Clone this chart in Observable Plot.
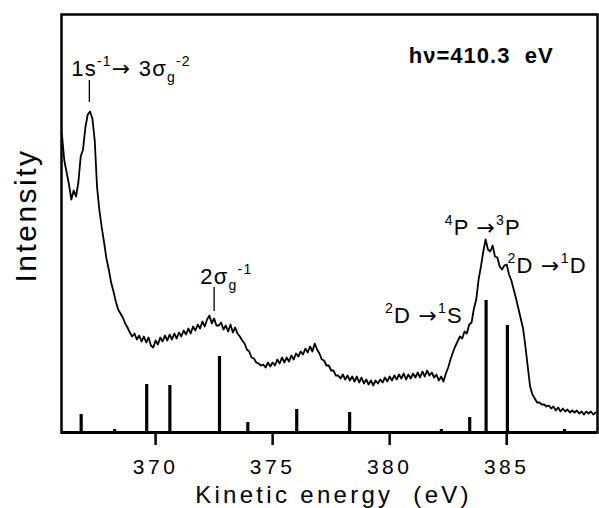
<!DOCTYPE html>
<html><head><meta charset="utf-8">
<script src="https://cdn.jsdelivr.net/npm/d3@7"></script>
<script src="https://cdn.jsdelivr.net/npm/@observablehq/plot@0.6"></script>
<style>body{margin:0;background:#fff} svg{display:block}</style>
</head><body><div id="chart"></div>
<script>
// Spectrum: kinetic energy grid start/step and intensity (arb. units)
const energyStart = 366.0;
const energyStep = 0.1;
const intensity = [
  298,272,260,248,233,242,236,250,276,283,
  305,318,321,314,292,245,222,205,190,174,
  163,150,141,131,123,119,115,109,105,100,
  96,99,93,97,91,96,90,95,87,85,
  92,88,95,91,97,92,98,93,99,94,
  100,96,102,98,104,99,106,102,108,104,
  111,106,113,117,109,114,107,107,110,103,
  107,101,108,100,105,99,96,92,89,83,
  81,75,74,70,69,67,68,65,70,66,
  70,67,73,69,75,70,75,71,77,73,
  79,76,81,78,84,80,86,81,89,83,
  79,73,72,67,67,62,62,57,57,54,
  58,53,57,52,56,51,56,50,55,49,
  53,48,52,47,52,49,53,50,55,51,
  56,52,57,53,58,54,59,53,58,54,
  59,55,60,55,61,56,62,57,60,55,
  58,52,56,51,59,65,73,80,86,91,
  96,94,101,99,108,110,124,133,153,166,
  181,193,183,181,187,176,175,166,163,167,
  168,158,152,143,134,124,114,104,86,66,
  46,38,34,30,30,28,28,26,27,24,
  26,22,25,21,24,21,23,20,22,20,
  22,19,21,18,21,19,21,18,20
];

// Calculated line positions (stick spectrum)
const stickEnergy = [366.82, 368.25, 369.62, 370.61, 372.73, 373.94, 376.03, 378.29, 382.21, 383.42, 384.12, 385.03, 387.47];
const stickHeight = [18, 3, 48, 47, 76, 10, 23, 20, 3, 15, 132, 107, 3];

const xTicks = [370, 375, 380, 385];

// Peak assignment labels
const labelText = ["1s-1→ 3σg-2", "2σg-1", "4P →3P", "2D →1D", "2D →1S"];
const labelEnergy = [366.40, 371.91, 382.35, 385.04, 379.80];
const labelIntensity = [357, 149, 198, 160, 110];
const labelParts = [
  [["1s",0],["-1",1],["→",2],[" 3σ",0],["g",-1],["-2",1]],
  [["2σ",0],["g",-1],["-1",1]],
  [["4",1],["P ",0],["→",2],["3",1],["P",0]],
  [["2",1],["D ",0],["→",2],["1",1],["D",0]],
  [["2",1],["D ",0],["→",2],["1",1],["S",0]]
];
const markerEnergy = [367.17, 372.50];
const markerTop = [352, 145];
const markerBottom = [330, 121];

const photonText = "hν=410.3  eV";
const photonEnergy = 380.82;
const photonIntensity = 370;

const xTitle = "Kinetic energy  (eV)";
const yTitle = "Intensity";

const spectrum = intensity.map((v, i) => ({E: energyStart + i * energyStep, I: v}));
const sticks = stickEnergy.map((e, i) => ({E: e, h: stickHeight[i]}));
const labels = labelText.map((t, i) => ({t, E: labelEnergy[i], I: labelIntensity[i]}));
const markers = markerEnergy.map((e, i) => ({E: e, top: markerTop[i], bottom: markerBottom[i]}));

const font = '"Liberation Sans", Arial, Helvetica, sans-serif';

const chart = Plot.plot({
  width: 599, height: 508,
  marginLeft: 61, marginRight: 2, marginTop: 14, marginBottom: 76,
  x: {domain: [365.98, 388.88], axis: null},
  y: {domain: [0, 418], axis: null},
  style: {fontFamily: font, background: "white", color: "black"},
  marks: [
    Plot.ruleX(sticks, {x: "E", y1: 0, y2: "h", stroke: "black", strokeWidth: 3.2}),
    Plot.line(spectrum, {x: "E", y: "I", stroke: "black", strokeWidth: 1.8}),
    Plot.ruleX(markers, {x: "E", y1: "bottom", y2: "top", stroke: "black", strokeWidth: 1.3}),
    Plot.text(labels, {x: "E", y: "I", text: "t", textAnchor: "start", lineAnchor: "bottom", fontSize: 22, fill: "black"}),
    Plot.text([photonText], {x: photonEnergy, y: photonIntensity, text: d => d, textAnchor: "start", lineAnchor: "bottom", fontSize: 22, fontWeight: "bold", fill: "black"}),
    Plot.frame({stroke: "black", strokeWidth: 2.5}),
    Plot.ruleY([0], {stroke: "black", strokeWidth: 3}),
    Plot.axisX(xTicks, {anchor: "bottom", tickSize: 13, tickPadding: 14, fontSize: 21, strokeWidth: 2.5, label: null, tickFormat: d => String(d)}),
    Plot.text([xTitle], {frameAnchor: "bottom", textAnchor: "middle", text: d => d, dy: 70, dx: 4, lineAnchor: "bottom", fontSize: 24, fill: "black"}),
    Plot.text([yTitle], {frameAnchor: "left", textAnchor: "middle", text: d => d, dx: -26, dy: -8, rotate: -90, lineAnchor: "bottom", fontSize: 30, fill: "black"})
  ]
});

const SVGNS = "http://www.w3.org/2000/svg";
d3.select(chart).selectAll("text").each(function () {
  const t = this.textContent;
  const idx = labelText.indexOf(t);
  if (idx >= 0) {
    while (this.firstChild) this.removeChild(this.firstChild);
    this.style.whiteSpace = "pre";
    let cur = 0;
    for (const [s, k] of labelParts[idx]) {
      const target = k === 1 ? -10 : k === -1 ? 6 : 0;
      const ts = document.createElementNS(SVGNS, "tspan");
      ts.setAttribute("dy", target - cur);
      if (k === 1 || k === -1) ts.setAttribute("font-size", 14);
      if (k === 2) { ts.setAttribute("font-family", '"DejaVu Sans", sans-serif'); ts.setAttribute("font-size", 22); }
      ts.textContent = s;
      this.appendChild(ts);
      cur = target;
    }
    this.setAttribute("letter-spacing", "1.2px");
  } else if (t === photonText) {
    this.setAttribute("xml:space", "preserve");
    this.style.whiteSpace = "pre";
    this.setAttribute("letter-spacing", "1px");
  } else if (t === xTitle) {
    this.style.whiteSpace = "pre";
    this.setAttribute("letter-spacing", "3.3px");
  } else if (t === yTitle) {
    this.setAttribute("letter-spacing", "2.5px");
  }
});
d3.select(chart).selectAll('g[aria-label="x-axis tick label"] text').attr("letter-spacing", "3.5px");

document.getElementById("chart").appendChild(chart);
</script>
</body></html>
